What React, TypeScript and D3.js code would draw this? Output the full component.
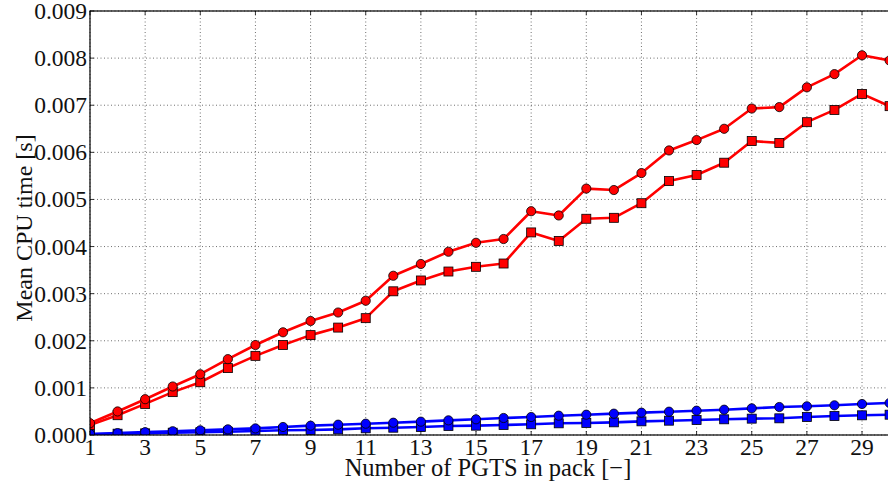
import React from "react";
import * as d3 from "d3";

const packSizes = d3.range(1, 31);
const redCircle = [0.00025, 0.0005, 0.00076, 0.00103, 0.00129, 0.00161, 0.00191, 0.00218, 0.00242, 0.0026, 0.00285, 0.00338, 0.00363, 0.00389, 0.00408, 0.00416, 0.00475, 0.00466, 0.00523, 0.0052, 0.00556, 0.00604, 0.00626, 0.0065, 0.00693, 0.00696, 0.00738, 0.00766, 0.00806, 0.00795];
const redSquare = [0.00021, 0.00042, 0.00066, 0.00091, 0.00112, 0.00142, 0.00168, 0.00191, 0.00212, 0.00228, 0.00248, 0.00305, 0.00328, 0.00347, 0.00357, 0.00364, 0.0043, 0.00412, 0.00459, 0.00461, 0.00492, 0.00539, 0.00552, 0.00578, 0.00624, 0.0062, 0.00664, 0.0069, 0.00724, 0.00698];
const blueCircle = [0.00002, 0.00004, 0.00006, 0.00008, 0.0001, 0.00012, 0.00014, 0.00017, 0.000198, 0.000219, 0.00024, 0.000261, 0.000283, 0.000311, 0.000333, 0.000361, 0.000382, 0.00041, 0.000431, 0.000453, 0.000474, 0.000495, 0.000516, 0.000537, 0.000566, 0.000594, 0.000609, 0.00063, 0.000658, 0.000679];
const blueSquare = [0.000014, 0.000028, 0.000035, 0.000049, 0.000057, 0.00007, 0.000085, 0.0001, 0.000106, 0.00012, 0.000142, 0.000155, 0.00017, 0.000191, 0.000198, 0.000212, 0.000227, 0.000248, 0.000255, 0.000269, 0.00029, 0.000304, 0.000318, 0.000333, 0.000347, 0.000354, 0.000382, 0.000403, 0.000418, 0.000431];
const xTicks = d3.range(1, 30, 2);
const yTicks = d3.range(0, 10).map((i) => i * 0.001);

const W = 888, H = 488;
const L = 90, R = 889.6, T = 11, B = 435;
const FONT = "'Liberation Serif', 'Times New Roman', serif";

export default function App() {
  const x = d3.scaleLinear().domain([1, 30]).range([L, R]);
  const y = d3.scaleLinear().domain([0, 0.009]).range([B, T]);
  const line = d3.line<number>().x((_, i) => x(packSizes[i])).y((d) => y(d));
  const series = [
    { data: blueSquare, color: "#0000ff", marker: "square" },
    { data: blueCircle, color: "#0000ff", marker: "circle" },
    { data: redSquare, color: "#ff0000", marker: "square" },
    { data: redCircle, color: "#ff0000", marker: "circle" },
  ];
  return (
    <svg width={W} height={H} style={{ position: "absolute", left: 0, top: 0, background: "#fff" }} fontFamily={FONT}>
      <defs>
        <clipPath id="plotclip">
          <rect x={L} y={T} width={R - L} height={B - T} />
        </clipPath>
      </defs>
      {/* grid */}
      <g stroke="#000" strokeWidth={0.7} strokeDasharray="1,2.5" opacity={0.8}>
        {xTicks.map((t) => (
          <line key={"gx" + t} x1={x(t)} x2={x(t)} y1={T} y2={B} />
        ))}
        {yTicks.map((t, i) => (
          <line key={"gy" + i} x1={L} x2={R} y1={y(t)} y2={y(t)} />
        ))}
      </g>
      {/* ticks inward */}
      <g stroke="#000" strokeWidth={0.8}>
        {xTicks.map((t) => (
          <g key={"tx" + t}>
            <line x1={x(t)} x2={x(t)} y1={B} y2={B - 4} />
            <line x1={x(t)} x2={x(t)} y1={T} y2={T + 4} />
          </g>
        ))}
        {yTicks.map((t, i) => (
          <line key={"ty" + i} x1={L} x2={L + 4} y1={y(t)} y2={y(t)} />
        ))}
      </g>
      {/* series */}
      <g clipPath="url(#plotclip)">
        {series.map((s, si) => (
          <g key={si}>
            <path d={line(s.data) || ""} fill="none" stroke={s.color} strokeWidth={2.6} strokeLinejoin="round" />
            {s.data.map((v, i) =>
              s.marker === "circle" ? (
                <circle key={i} cx={x(packSizes[i])} cy={y(v)} r={4.6} fill={s.color} stroke="#000" strokeWidth={0.8} />
              ) : (
                <rect key={i} x={x(packSizes[i]) - 4.5} y={y(v) - 4.5} width={9} height={9} fill={s.color} stroke="#000" strokeWidth={0.8} />
              )
            )}
          </g>
        ))}
      </g>
      {/* frame */}
      <rect x={L} y={T} width={R - L} height={B - T} fill="none" stroke="#000" strokeWidth={1.2} />
      {/* tick labels */}
      <g fontSize={23.5} fill="#111">
        {xTicks.map((t) => (
          <text key={"lx" + t} x={x(t)} y={B + 19.5} textAnchor="middle">
            {t}
          </text>
        ))}
        {yTicks.map((t, i) => (
          <text key={"ly" + i} x={L - 3} y={y(t) + 8} textAnchor="end">
            {d3.format(".3f")(t)}
          </text>
        ))}
      </g>
      <text x={488} y={476} textAnchor="middle" fontSize={24.5} fill="#111">
        Number of PGTS in pack [−]
      </text>
      <text transform={`translate(32, ${(T + B) / 2 + 5}) rotate(-90)`} textAnchor="middle" fontSize={24} fill="#111">
        Mean CPU time [s]
      </text>
    </svg>
  );
}
